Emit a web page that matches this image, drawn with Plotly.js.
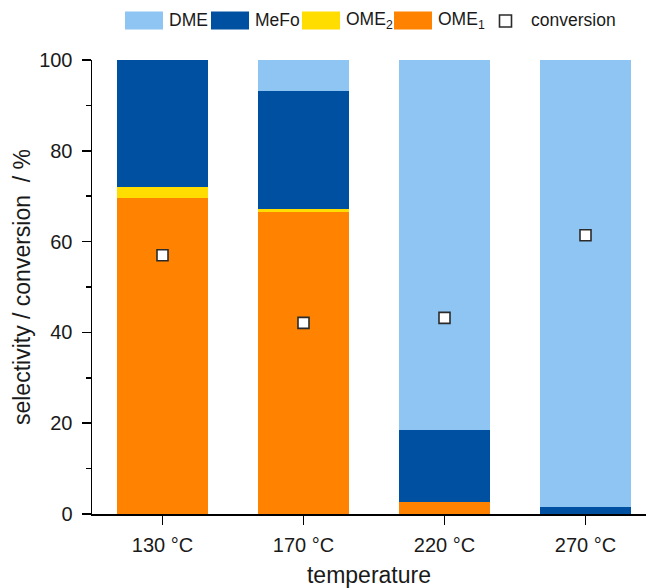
<!DOCTYPE html>
<html>
<head>
<meta charset="utf-8">
<script src="https://cdn.plot.ly/plotly-3.0.1.min.js"></script>
<style>
  html, body { margin: 0; padding: 0; background: #fff; }
  #chart { width: 648px; height: 588px; }
</style>
</head>
<body>
<div id="chart"></div>
<script>
// Reaction temperatures
const temperatures = ['130 °C', '170 °C', '220 °C', '270 °C'];

// Product selectivities in % (stacked bottom to top)
const ome1 = [69.5, 66.5, 2.6, 0.0];
const ome2 = [2.5, 0.7, 0.0, 0.0];
const mefo = [28.0, 26.0, 15.9, 1.5];
const dme  = [0.0, 6.8, 81.5, 98.5];

// Conversion in %
const conversion = [57.0, 42.1, 43.2, 61.4];

const colors = {
  dme:  '#8EC5F3',
  mefo: '#0050A2',
  ome2: '#FFDD00',
  ome1: '#FF8200'
};

const FONT = '"Liberation Sans", Arial, sans-serif';

function barTrace(name, values, color) {
  return {
    type: 'bar', name: name, x: temperatures, y: values,
    marker: { color: color, line: { width: 0 } },
    width: 0.65, showlegend: false, hoverinfo: 'skip'
  };
}

const traces = [
  barTrace('OME1', ome1, colors.ome1),
  barTrace('OME2', ome2, colors.ome2),
  barTrace('MeFo', mefo, colors.mefo),
  barTrace('DME',  dme,  colors.dme),
  {
    type: 'scatter', mode: 'markers', name: 'conversion',
    x: temperatures, y: conversion, showlegend: false,
    marker: { symbol: 'square', size: 11, color: '#ffffff',
              line: { color: '#2b2b2b', width: 1.6 } }
  }
];

// Plot area geometry (px) used to place the legend row above it
const L = 92, R = 2, T = 60, B = 74, W = 648, H = 588;
const pw = W - L - R, ph = H - T - B;
const px = v => (v - L) / pw;
const py = v => (H - B - v) / ph;

// Legend row: swatch [x0, x1] and label start
const legendItems = [
  { label: 'DME',                color: colors.dme,  x0: 125, x1: 163, tx: 167 },
  { label: 'MeFo',               color: colors.mefo, x0: 211, x1: 249, tx: 253 },
  { label: 'OME<sub>2</sub>',    color: colors.ome2, x0: 302, x1: 340, tx: 344 },
  { label: 'OME<sub>1</sub>',    color: colors.ome1, x0: 394, x1: 432, tx: 436 }
];

const shapes = [];
const annotations = [];
legendItems.forEach(it => {
  shapes.push({ type: 'rect', xref: 'paper', yref: 'paper',
    x0: px(it.x0), x1: px(it.x1), y0: py(29.5), y1: py(11.5),
    fillcolor: it.color, line: { width: 0 } });
  annotations.push({ xref: 'paper', yref: 'paper', x: px(it.tx), y: py(20.5),
    xanchor: 'left', yanchor: 'middle', text: it.label, showarrow: false,
    font: { family: FONT, size: 17.5, color: '#1a1a1a' } });
});
shapes.push({ type: 'rect', xref: 'paper', yref: 'paper',
  x0: px(499.5), x1: px(511.5), y0: py(27), y1: py(15),
  fillcolor: '#ffffff', line: { color: '#2b2b2b', width: 1.6 } });
annotations.push({ xref: 'paper', yref: 'paper', x: px(529), y: py(20.5),
  xanchor: 'left', yanchor: 'middle', text: 'conversion', showarrow: false,
  font: { family: FONT, size: 17.5, color: '#1a1a1a' } });

const layout = {
  width: W, height: H,
  margin: { l: L, r: R, t: T, b: B, pad: 0 },
  paper_bgcolor: '#ffffff', plot_bgcolor: '#ffffff',
  barmode: 'stack', bargap: 0.35,
  showlegend: false,
  font: { family: FONT, color: '#1a1a1a' },
  xaxis: {
    type: 'category', range: [-0.5, -0.5 + pw / 141],
    showline: true, linecolor: '#000', linewidth: 1.5,
    ticks: 'outside', ticklen: 9, tickwidth: 1.5, tickcolor: '#000',
    ticklabelstandoff: 3,
    tickfont: { family: FONT, size: 20, color: '#1a1a1a' },
    showgrid: false, zeroline: false,
    title: { text: 'temperature', font: { family: FONT, size: 23, color: '#1a1a1a' }, standoff: 12 }
  },
  yaxis: {
    range: [0, 100], dtick: 20, tick0: 0,
    showline: true, linecolor: '#000', linewidth: 1.5,
    ticks: 'outside', ticklen: 9, tickwidth: 1.5, tickcolor: '#000',
    ticklabelstandoff: 5,
    minor: { dtick: 10, ticks: 'outside', ticklen: 5, tickwidth: 1.5, tickcolor: '#000', showgrid: false },
    tickfont: { family: FONT, size: 20, color: '#1a1a1a' },
    showgrid: false, zeroline: false,
    title: { text: 'selectivity / conversion  / %', font: { family: FONT, size: 23, color: '#1a1a1a' }, standoff: 2 }
  },
  shapes: shapes,
  annotations: annotations
};

Plotly.newPlot('chart', traces, layout, { staticPlot: true, displayModeBar: false });
</script>
</body>
</html>
